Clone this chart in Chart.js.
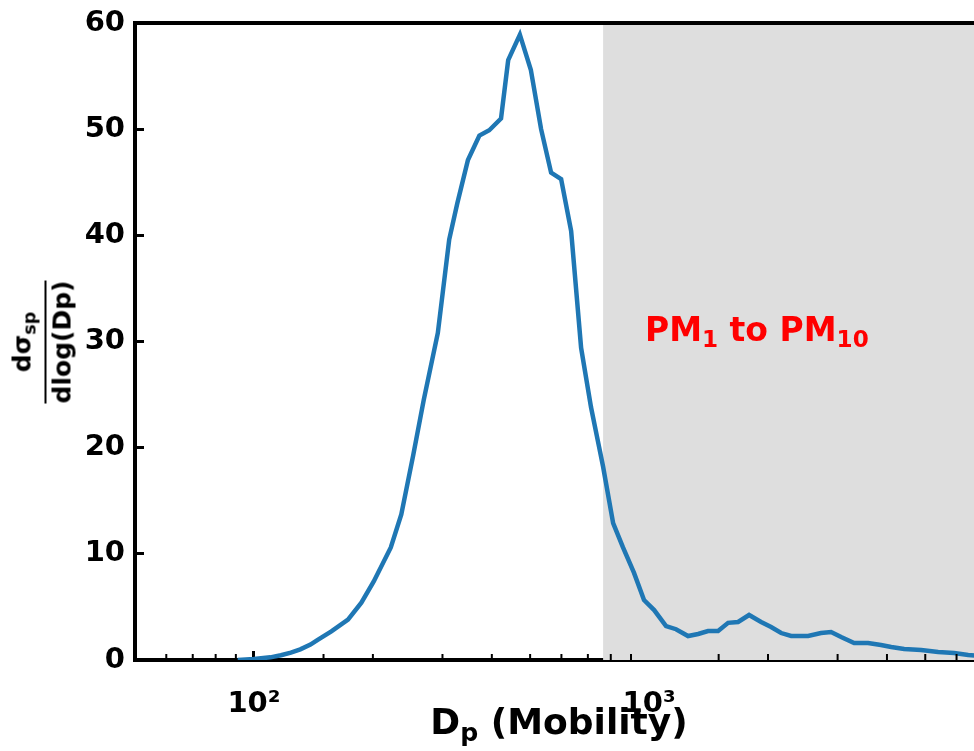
<!DOCTYPE html>
<html>
<head>
<meta charset="utf-8">
<script src="https://cdn.jsdelivr.net/npm/chart.js@4.4.0/dist/chart.umd.min.js"></script>
<style>
  html, body { margin: 0; padding: 0; background: #fff; overflow: hidden; }
  #wrap { position: relative; width: 990px; height: 751px; }
  .lbl { position: absolute; font-family: 'DejaVu Sans', sans-serif; font-weight: bold; color: #000; white-space: nowrap; line-height: 1; }
  .lbl sub { font-size: 0.7em; vertical-align: baseline; position: relative; top: 0.28em; line-height: 0; }
  #xtitle { font-size: 36px; left: 559px; top: 704px; transform: translateX(-50%); }
  #pm { font-size: 33px; color: #ff0000; left: 645px; top: 313px; }
  #ytitle { left: 42px; top: 342px; transform: translate(-50%, -50%) rotate(-90deg); text-align: center; }
  #ytitle .num { display: block; font-size: 25px; padding: 0 4px 10px 4px; }
  #ytitle .den { display: block; font-size: 25px; border-top: 2px solid #000; padding-top: 3px; }
</style>
</head>
<body>
<div id="wrap">
  <canvas id="chart" width="990" height="751"></canvas>
  <div class="lbl" id="ytitle"><span class="num">dσ<sub>sp</sub></span><span class="den">dlog(Dp)</span></div>
  <div class="lbl" id="xtitle">D<sub>p</sub> (Mobility)</div>
  <div class="lbl" id="pm">PM<sub>1</sub> to PM<sub>10</sub></div>
</div>
<script>
// mobility diameter (nm) and dσsp/dlog(Dp)
const diameters = [91, 100, 110, 117, 124, 131, 139, 145, 157, 173, 187, 201, 222, 236, 253, 269,
  292, 312, 327, 348, 372, 394, 422, 440, 471, 502, 533, 565, 599, 635, 673, 713, 747, 765,
  811, 859, 916, 971, 1030, 1104, 1170, 1255, 1331, 1410, 1495, 1585, 1680, 1791, 1921, 2036,
  2159, 2289, 2526, 2723, 2888, 3062, 3303, 3582, 3863, 4100, 4422, 4883, 5390, 5915, 6421, 6918];
const scattering = [0.0, 0.1, 0.25, 0.45, 0.7, 1.0, 1.45, 1.9, 2.7, 3.8, 5.4, 7.4, 10.6, 13.7, 19.3, 24.5,
  30.8, 39.6, 43.0, 47.1, 49.4, 49.9, 51.0, 56.5, 58.9, 55.6, 50.0, 45.9, 45.3, 40.4, 29.4, 23.8, 20.1, 18.2,
  12.9, 10.6, 8.2, 5.65, 4.7, 3.2, 2.9, 2.26, 2.45, 2.73, 2.73, 3.5, 3.58, 4.24, 3.58, 3.1,
  2.54, 2.26, 2.26, 2.54, 2.64, 2.17, 1.6, 1.6, 1.41, 1.22, 1.04, 0.94, 0.75, 0.66, 0.47, 0.38];

const xMin = 50, xMax = 7000;
const yMin = 0, yMax = 60, yStep = 10;
const xLabels = { 100: '10²', 1000: '10³' };
const shadeFrom = 765;   // PM1 cut in mobility diameter

// grey band from the PM1 cut to the right edge
const shadePlugin = {
  id: 'shade',
  beforeDatasetsDraw(chart) {
    const { ctx, chartArea, scales } = chart;
    const x0 = scales.x.getPixelForValue(shadeFrom);
    ctx.save();
    ctx.fillStyle = '#dedede';
    ctx.fillRect(x0, chartArea.top, chartArea.right - x0, chartArea.bottom - chartArea.top);
    ctx.restore();
  }
};

// minor x ticks (shorter) plus the top/right spines
const framePlugin = {
  id: 'frame',
  afterDraw(chart) {
    const { ctx, chartArea, scales } = chart;
    ctx.save();
    ctx.strokeStyle = '#000';
    ctx.lineWidth = 2;
    scales.x.ticks.forEach(t => {
      if (t.major || t.value <= xMin) return;
      const x = scales.x.getPixelForValue(t.value);
      ctx.beginPath();
      ctx.moveTo(x, chartArea.bottom);
      ctx.lineTo(x, chartArea.bottom - 6);
      ctx.stroke();
    });
    ctx.lineWidth = 4;
    ctx.beginPath();
    ctx.moveTo(chartArea.left - 2, chartArea.top);
    ctx.lineTo(chartArea.right + 2, chartArea.top);
    ctx.moveTo(chartArea.right, chartArea.top);
    ctx.lineTo(chartArea.right, chartArea.bottom);
    ctx.stroke();
    ctx.restore();
  }
};

const tickFont = { family: 'DejaVu Sans', size: 29, weight: 'bold' };

new Chart(document.getElementById('chart').getContext('2d'), {
  type: 'scatter',
  data: {
    datasets: [{
      data: diameters.map((d, i) => ({ x: d, y: scattering[i] })),
      showLine: true,
      borderColor: '#1f77b4',
      borderWidth: 4.5,
      pointRadius: 0,
      tension: 0,
      fill: false
    }]
  },
  options: {
    responsive: false,
    animation: false,
    layout: { padding: { top: 23, right: 7, left: 0, bottom: 0 } },
    plugins: { legend: { display: false }, tooltip: { enabled: false } },
    scales: {
      x: {
        type: 'logarithmic',
        min: xMin,
        max: xMax,
        z: 1,
        afterFit: s => { s.height = 91; s.paddingLeft = 0; s.paddingRight = 0; },
        border: { display: true, color: '#000', width: 4 },
        grid: {
          drawOnChartArea: false,
          tickLength: -9,
          tickWidth: 3,
          tickColor: c => (c.tick && c.tick.major) ? '#000' : 'rgba(0,0,0,0)'
        },
        ticks: {
          autoSkip: false,
          maxRotation: 0,
          padding: 36,
          color: '#000',
          font: tickFont,
          callback: v => xLabels[v] || ''
        }
      },
      y: {
        min: yMin,
        max: yMax,
        z: 1,
        afterFit: s => { s.width = 135; s.paddingTop = 0; s.paddingBottom = 0; },
        border: { display: true, color: '#000', width: 4 },
        grid: { drawOnChartArea: false, tickLength: -9, tickWidth: 3, tickColor: '#000' },
        ticks: { stepSize: yStep, padding: 19, color: '#000', font: tickFont }
      }
    }
  },
  plugins: [shadePlugin, framePlugin]
});
</script>
</body>
</html>
